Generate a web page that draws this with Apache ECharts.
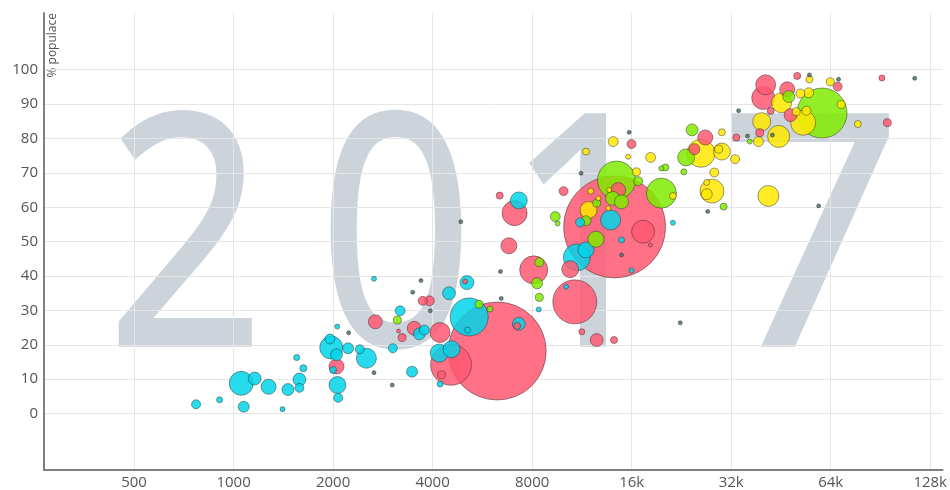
<!DOCTYPE html>
<html>
<head>
    <meta charset="UTF-8">
    <title>2017</title>
    <style>
        html, body {
            margin: 0;
            height: 100%;
            background-color: #FFF;
        }
    </style>
</head>
<body>
<div id="main" style="width:950px;height:490px"></div>

<script src="https://cdn.jsdelivr.net/npm/echarts@6/dist/echarts.min.js"></script>
<script type="text/javascript">
    // [income, % populace, population (mil.)]
    var africa = [
        [770, 2.7, 10.7], [907, 4.0, 4.8], [1055, 8.8, 76], [1158, 10.2, 22], [1276, 7.8, 30],
        [1073, 2.0, 16], [1406, 1.3, 3.3], [1460, 7.0, 19], [1582, 9.9, 22], [1582, 7.5, 10.7],
        [1626, 13.2, 6.5], [1552, 16.3, 4.8], [1974, 19.2, 70], [1956, 21.7, 13], [2048, 17.1, 19],
        [2220, 19.0, 16], [2408, 18.7, 10.7], [2522, 16.1, 53], [2000, 12.7, 6.5], [2062, 8.3, 38],
        [2072, 4.6, 10.7], [2058, 25.3, 3.3], [2659, 39.2, 3.3], [3032, 19.0, 10.7], [3190, 29.9, 13],
        [3466, 12.2, 16], [3648, 23.2, 19], [3776, 24.3, 13], [4484, 35.0, 22], [4188, 17.6, 43],
        [4564, 18.7, 38], [4216, 8.6, 4.8], [5160, 28.1, 191], [5100, 24.3, 4.8], [5080, 38.1, 26],
        [7292, 26.1, 22], [7292, 62.0, 38], [10920, 45.4, 96], [11640, 47.6, 34], [10140, 36.9, 3.3],
        [11170, 55.6, 10.7], [13820, 56.3, 53], [8376, 30.3, 3.3], [21330, 55.5, 3.3], [14910, 50.5, 4.8],
        [15980, 41.6, 3.3]
    ];
    var asia = [
        [14210, 54.3, 1376], [6272, 18.2, 1270], [2048, 13.7, 30], [2684, 26.7, 26], [3234, 22.1, 8.5],
        [3154, 24.0, 2], [3732, 32.8, 10.7], [3910, 32.8, 13], [3520, 24.8, 26], [4212, 23.6, 53],
        [4548, 14.2, 222], [4256, 11.3, 8.5], [5016, 38.4, 3.3], [7204, 25.5, 6.5], [6384, 63.4, 6.5],
        [7080, 58.3, 83], [6804, 48.8, 34], [8088, 41.8, 104], [9960, 64.7, 10.7], [10770, 32.5, 256],
        [11310, 23.8, 4.8], [12540, 21.4, 22], [14150, 21.4, 6.5], [10430, 42.0, 38], [17330, 52.9, 70],
        [14570, 65.0, 30], [15980, 78.4, 10.7], [18230, 49.0, 2], [24770, 76.9, 16], [26720, 80.3, 30],
        [33180, 80.3, 6.5], [39040, 81.7, 8.5], [42130, 88.0, 6.5], [40700, 95.6, 53], [40000, 91.8, 70],
        [47290, 94.3, 30], [48380, 86.8, 22], [50690, 98.2, 6.5], [67200, 95.1, 10.7], [91460, 97.6, 4.8],
        [94980, 84.6, 8.5]
    ];
    var americas = [
        [3128, 27.2, 8.5], [5528, 31.8, 8.5], [5964, 30.4, 4.8], [8408, 44.0, 10.7], [8280, 37.9, 16],
        [8408, 33.8, 8.5], [9400, 57.3, 13], [9552, 55.3, 3.3], [14400, 67.9, 191], [14010, 62.6, 26],
        [14910, 61.6, 26], [16740, 67.6, 10.7], [19680, 64.1, 119], [11640, 56.1, 13], [12480, 50.7, 34],
        [12540, 61.2, 8.5], [20230, 71.6, 6.5], [19680, 71.3, 3.3], [24370, 82.5, 19], [23380, 74.5, 38],
        [23010, 70.3, 4.8], [30360, 60.2, 6.5], [36420, 79.1, 3.3], [47800, 92.2, 19], [60260, 87.4, 331]
    ];
    var europe = [
        [11850, 59.2, 38], [12030, 64.7, 4.8], [12690, 62.6, 3.3], [13690, 65.0, 3.3], [13600, 59.7, 3.3],
        [16540, 70.3, 8.5], [14070, 79.1, 13], [11640, 76.2, 6.5], [15620, 74.7, 3.3], [18260, 74.5, 13],
        [21330, 63.3, 6.5], [25940, 75.7, 104], [30000, 76.2, 38], [29330, 76.9, 8.5], [30000, 81.8, 6.5],
        [32890, 74.0, 10.7], [28450, 70.1, 10.7], [28000, 64.7, 76], [26990, 67.2, 4.8], [26990, 63.8, 16],
        [41470, 63.3, 58], [39590, 84.9, 43], [44550, 80.6, 64], [38690, 79.1, 13], [45470, 90.4, 53],
        [52830, 84.6, 83], [50340, 87.8, 8.5], [54050, 88.1, 10.7], [51840, 93.1, 10.7], [54910, 93.3, 13],
        [63820, 96.5, 8.5], [55200, 97.2, 6.5], [68860, 89.9, 8.5], [77330, 84.2, 6.5]
    ];
    // tiny countries
    var small = [
        [2228, 23.5, 0.5], [2659, 11.9, 0.5], [3019, 8.3, 0.5], [3688, 38.7, 0.5], [3482, 35.3, 0.5],
        [3936, 29.9, 0.5], [4869, 55.8, 0.5], [6418, 41.3, 0.5], [6450, 33.5, 0.5], [11250, 69.9, 0.5],
        [15730, 81.8, 0.5], [14910, 46.1, 0.5], [22440, 26.4, 0.5], [27180, 58.8, 0.5], [33700, 88.1, 0.5],
        [35850, 80.7, 0.5], [42650, 81.0, 0.5], [55200, 98.5, 0.5], [67600, 97.2, 0.5], [114900, 97.5, 0.5],
        [58850, 60.4, 0.5]
    ];

    var xTicks = [500, 1000, 2000, 4000, 8000, 16000, 32000, 64000, 128000];
    var yTicks = [0, 10, 20, 30, 40, 50, 60, 70, 80, 90, 100];
    var year = '2017';

    var regionColor = ['#00d5e9', '#ff5872', '#7feb00', '#ffe700', '#4f6f6f'];

    var all = [];
    [africa, asia, americas, europe, small].forEach(function (list, r) {
        list.forEach(function (d) {
            all.push([d[0], d[1], d[2], r]);
        });
    });
    // big bubbles first
    all.sort(function (a, b) {
        return b[2] - a[2];
    });

    // background year, one digit at a time
    var digitX = [186, 396, 586, 811];
    var digitScale = [0.86, 0.84, 0.86, 1.0];
    var graphics = [];
    for (var i = 0; i < year.length; i++) {
        graphics.push({
            type: 'text',
            z: -10,
            x: digitX[i],
            y: 253,
            scaleX: digitScale[i],
            style: {
                text: year[i],
                fill: '#ccd3da',
                stroke: '#ccd3da',
                lineWidth: 5,
                font: 'normal 320px "Open Sans"',
                textAlign: 'center',
                textVerticalAlign: 'middle'
            }
        });
    }
    graphics.push({
        type: 'text',
        x: 53,
        y: 13,
        rotation: Math.PI / 2,
        style: {
            text: '% populace',
            fill: '#555',
            font: 'normal 12px "Open Sans"',
            textAlign: 'right',
            textVerticalAlign: 'middle'
        }
    });

    var mCharts = echarts.init(document.getElementById('main'));
    mCharts.setOption({
        animation: false,
        graphic: graphics,
        grid: {
            left: 44,
            right: 2,
            top: 13,
            bottom: 20
        },
        xAxis: {
            type: 'log',
            logBase: 2,
            min: 267,
            max: 139500,
            axisLine: {onZero: false, lineStyle: {color: '#7f7f7f', width: 2}},
            axisTick: {show: false, customValues: xTicks},
            axisLabel: {
                customValues: xTicks,
                color: '#555',
                fontSize: 15,
                fontFamily: 'Open Sans',
                margin: 5,
                formatter: function (v) {
                    v = Math.round(v);
                    return v >= 16000 ? (v / 1000) + 'k' : '' + v;
                }
            },
            splitLine: {show: true, lineStyle: {color: '#e6e6e6'}}
        },
        yAxis: {
            type: 'value',
            min: -16.4,
            max: 116.5,
            axisLine: {show: true, onZero: false, lineStyle: {color: '#7f7f7f', width: 2}},
            axisTick: {show: false, customValues: yTicks},
            axisLabel: {
                customValues: yTicks,
                color: '#555',
                fontSize: 15,
                fontFamily: 'Open Sans',
                margin: 6
            },
            splitLine: {show: true, lineStyle: {color: '#e6e6e6'}}
        },
        series: [{
            type: 'scatter',
            data: all,
            symbolSize: function (d) {
                return Math.max(4, 2.75 * Math.sqrt(d[2]));
            },
            itemStyle: {
                opacity: 0.85,
                borderColor: 'rgba(40,40,40,0.55)',
                borderWidth: 1,
                color: function (p) {
                    return regionColor[p.data[3]];
                }
            }
        }]
    });
</script>
</body>
</html>
